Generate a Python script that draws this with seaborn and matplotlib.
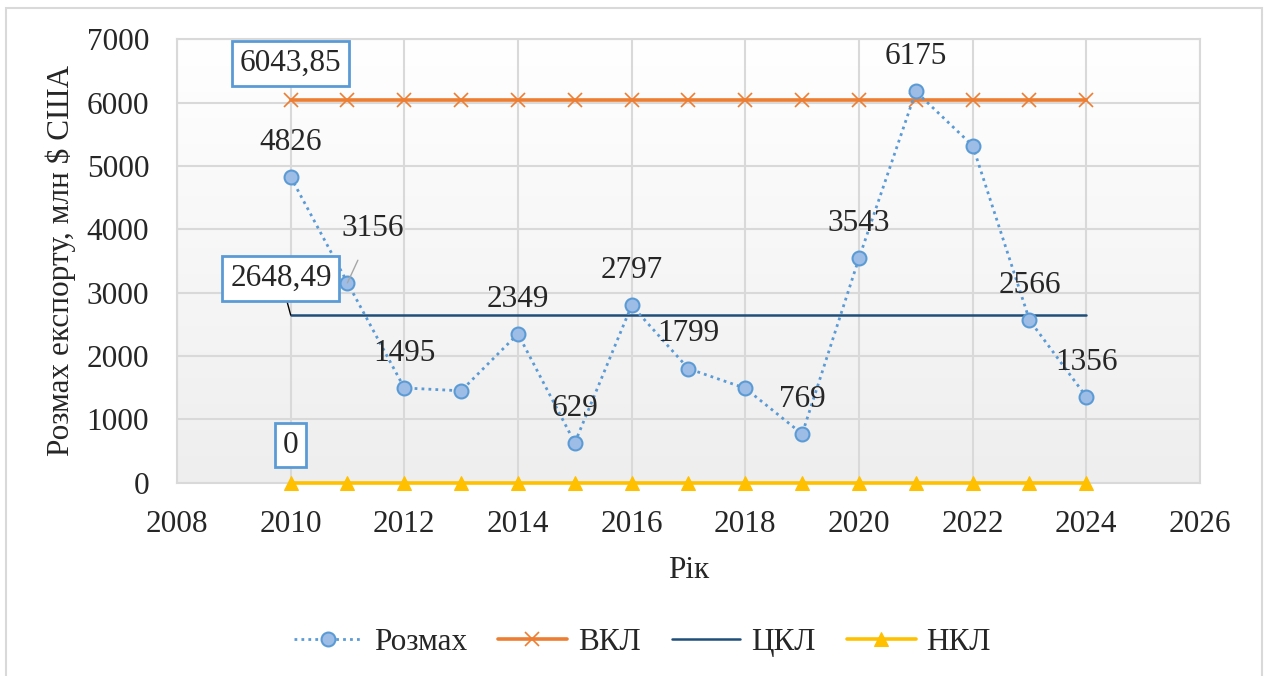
import numpy as np
import pandas as pd
import seaborn as sns
import matplotlib.pyplot as plt
from matplotlib.patches import Rectangle

#----------------------------------------
years = [2010, 2011, 2012, 2013, 2014, 2015, 2016, 2017, 2018, 2019, 2020, 2021, 2022, 2023, 2024]
rozmakh = [4826, 3156, 1495, 1450, 2349, 629, 2797, 1799, 1490, 769, 3543, 6175, 5320, 2566, 1356]
vkl = 6043.85
ckl = 2648.49
nkl = 0
y_label = 'Розмах експорту, млн $ США'
x_label = 'Рік'
#----------------------------------------

df = pd.DataFrame({'year': years, 'Розмах': rozmakh})
df['ВКЛ'] = vkl
df['ЦКЛ'] = ckl
df['НКЛ'] = nkl

sns.set_style('white')
plt.rcParams['font.family'] = ['Liberation Serif', 'DejaVu Serif']
fs = 22.5

fig = plt.figure(figsize=(12.65, 6.76), dpi=100)
ax = fig.add_axes([0.1399, 0.286, 0.8087, 0.656])

# light gradient behind the plot area
grad = np.linspace(1, 0, 256).reshape(-1, 1)
ax.imshow(grad, extent=[0, 1, 0, 1], transform=ax.transAxes, aspect='auto',
          cmap=plt.matplotlib.colors.LinearSegmentedColormap.from_list('g', ['#eeeeee', '#ffffff']),
          vmin=0, vmax=1, zorder=0)

sns.lineplot(data=df, x='year', y='Розмах', ax=ax, color='#5b9bd5', lw=2, ls=(0, (1, 1.5)),
             marker='o', markersize=10, markerfacecolor='#9dbde6', markeredgecolor='#5b9bd5',
             markeredgewidth=1.5, label='Розмах', zorder=5)
sns.lineplot(data=df, x='year', y='ВКЛ', ax=ax, color='#ed7d31', lw=2.6, marker='x',
             markersize=10, markeredgewidth=1.2, markeredgecolor='#ed7d31', label='ВКЛ', zorder=3)
sns.lineplot(data=df, x='year', y='ЦКЛ', ax=ax, color='#1f4e79', lw=1.8, label='ЦКЛ', zorder=3)
sns.lineplot(data=df, x='year', y='НКЛ', ax=ax, color='#ffc000', lw=2.6, marker='^',
             markersize=10, markeredgecolor='#ffc000', label='НКЛ', zorder=3, clip_on=False)

ax.set_xlim(2008, 2026)
ax.set_ylim(0, 7000)
ax.set_xticks(range(2008, 2027, 2))
ax.set_yticks(range(0, 7001, 1000))
ax.grid(True, color='#d9d9d9', lw=1.5)
ax.set_axisbelow(True)
for s in ax.spines.values():
    s.set_color('#d9d9d9')
    s.set_linewidth(1.5)
ax.tick_params(labelsize=fs, length=0, pad=20)
ax.set_xlabel(x_label, fontsize=fs, labelpad=12)
ax.set_ylabel(y_label, fontsize=fs, labelpad=8)

# data labels
for x, v in zip(years, rozmakh):
    if x == 2013 or x == 2018 or x == 2022:
        continue
    if x == 2011:
        ax.annotate(str(v), (x, v), xytext=(18, 39), textcoords='offset points',
                    ha='center', va='center', fontsize=fs, zorder=6,
                    arrowprops=dict(arrowstyle='-', color='#a6a6a6', lw=1,
                                    shrinkA=11, shrinkB=0))
        continue
    ax.annotate(str(v), (x, v), xytext=(0, 25), textcoords='offset points',
                ha='center', va='center', fontsize=fs, zorder=6)

box = dict(boxstyle='square,pad=0.25', fc='white', ec='#5b9bd5', lw=2)
ax.annotate('6043,85', (years[0], vkl), xytext=(0, 26), textcoords='offset points',
            ha='center', va='center', fontsize=fs, bbox=box, zorder=6)
ax.annotate('2648,49', (years[0], ckl), xytext=(-7, 26), textcoords='offset points',
            ha='center', va='center', fontsize=fs, bbox=box, zorder=6,
            arrowprops=dict(arrowstyle='-', color='black', lw=1, shrinkA=0, shrinkB=0))
ax.annotate('0', (years[0], nkl), xytext=(0, 27), textcoords='offset points',
            ha='center', va='center', fontsize=fs, bbox=box, zorder=6)

ax.legend(loc='center', bbox_to_anchor=(0.455, -0.361), ncol=4, frameon=False,
          fontsize=fs, handlelength=2.2, columnspacing=1.0, handletextpad=0.35)

fig.patches.append(Rectangle((6 / 1265, -0.01), 1256 / 1265, 1 - 8 / 676 + 0.01,
                             transform=fig.transFigure, fill=False, ec='#d9d9d9', lw=1.5))

fig.savefig('out.png', dpi=100)
